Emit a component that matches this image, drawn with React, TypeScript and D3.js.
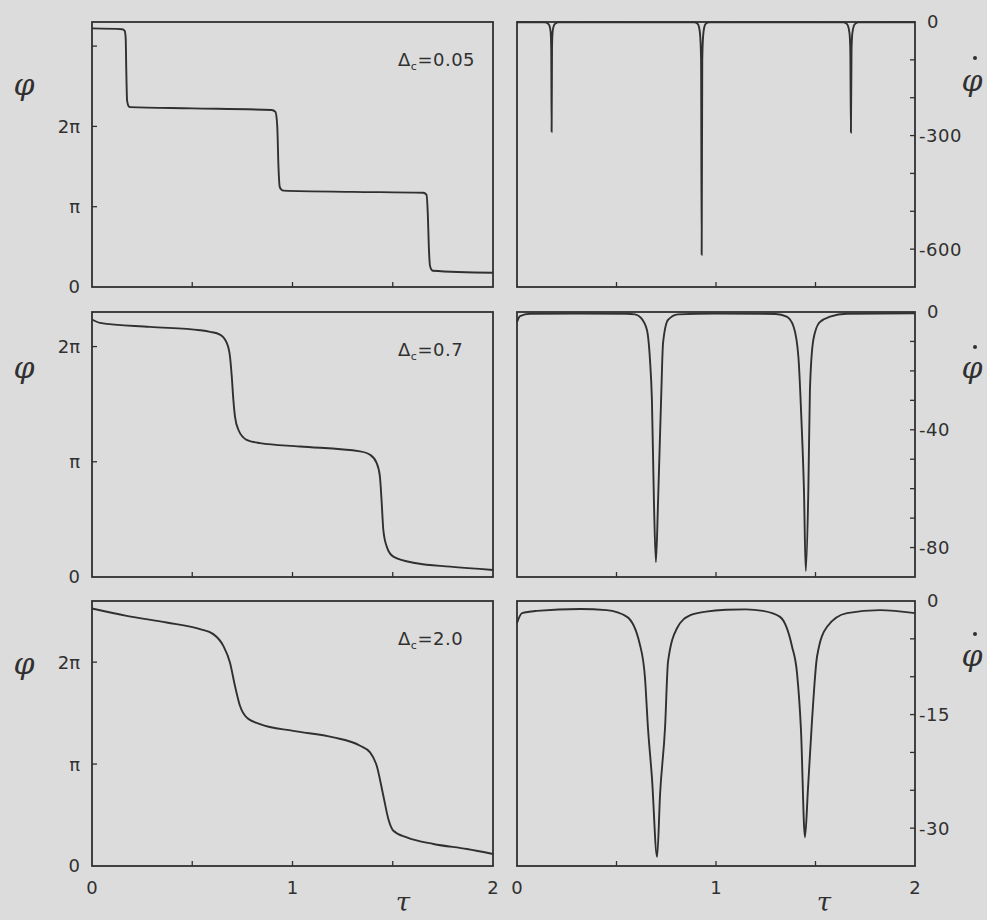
import React from 'react';
import * as d3 from 'd3';

// ---------- data (phase in units of pi, rate in raw units) ----------
const tauMinorTicks = [0.5, 1, 1.5];
const tauLabels = [0, 1, 2];
const deltaLabels = ['0.05', '0.7', '2.0'];

const phaseDomainsTop = [3.3, 2.3, 2.6];
const phaseTickSets = [[1, 2, 3], [1, 2], [1, 2]];
const phaseLabelVals = [0, 1, 2];

const rateDomainsBottom = [-700, -90, -35];
const rateTickSets = [
  [-100, -200, -300, -400, -500, -600],
  [-10, -20, -30, -40, -50, -60, -70, -80],
  [-5, -10, -15, -20, -25, -30],
];
const rateLabelSets = [[0, -300, -600], [0, -40, -80], [0, -15, -30]];

const phi005: [number, number][] = [
  [0, 3.22], [0.15, 3.21], [0.163, 3.19], [0.168, 3.1], [0.171, 2.7], [0.175, 2.32], [0.183, 2.25],
  [0.19, 2.24], [0.5, 2.225], [0.896, 2.204], [0.915, 2.18], [0.924, 2.0], [0.93, 1.5], [0.936, 1.25],
  [0.945, 1.21], [0.955, 1.2], [1.3, 1.185], [1.652, 1.174], [1.668, 1.15], [1.675, 0.9], [1.68, 0.5],
  [1.686, 0.26], [1.695, 0.21], [1.7, 0.203], [2, 0.178],
];
const phi07: [number, number][] = [
  [0, 2.235], [0.04, 2.206], [0.289, 2.171], [0.539, 2.142], [0.589, 2.128], [0.638, 2.104],
  [0.672, 2.032], [0.688, 1.916], [0.697, 1.742], [0.705, 1.539], [0.713, 1.394], [0.73, 1.278],
  [0.771, 1.191], [0.838, 1.162], [1.037, 1.133], [1.337, 1.09], [1.387, 1.061], [1.42, 0.988],
  [1.436, 0.872], [1.445, 0.641], [1.453, 0.409], [1.47, 0.264], [1.503, 0.177], [1.619, 0.119],
  [1.786, 0.09], [2, 0.061],
];
const phi20: [number, number][] = [
  [0, 2.526], [0.173, 2.454], [0.372, 2.389], [0.539, 2.324], [0.605, 2.275], [0.655, 2.16],
  [0.688, 1.997], [0.713, 1.768], [0.738, 1.572], [0.771, 1.458], [0.838, 1.392], [1.004, 1.326],
  [1.204, 1.262], [1.337, 1.18], [1.387, 1.115], [1.42, 0.984], [1.453, 0.689], [1.478, 0.461],
  [1.503, 0.346], [1.57, 0.281], [1.703, 0.216], [1.87, 0.167], [2, 0.118],
];

const rate005: [number, number][] = [
  [0, -0.5], [0.14, -1], [0.155, -4], [0.163, -10], [0.169, -26], [0.172, -70], [0.174, -290],
  [0.176, -70], [0.179, -26], [0.185, -10], [0.193, -4], [0.208, -1], [0.5, -0.5],
  [0.89, -1], [0.906, -4], [0.914, -12], [0.921, -40], [0.925, -100], [0.928, -615], [0.931, -100],
  [0.935, -40], [0.942, -12], [0.95, -4], [0.966, -1], [1.3, -0.5],
  [1.64, -1], [1.655, -4], [1.663, -10], [1.671, -30], [1.675, -75], [1.678, -292], [1.681, -75],
  [1.685, -30], [1.693, -10], [1.701, -4], [1.716, -1], [2, -0.5],
];
const rate07: [number, number][] = [
  [0, -3.4], [0.015, -1.4], [0.065, -0.6], [0.3, -0.5], [0.55, -0.6], [0.593, -0.8], [0.623, -2],
  [0.653, -6.1], [0.668, -16], [0.678, -30], [0.688, -64], [0.698, -85], [0.709, -64], [0.724, -30],
  [0.734, -10.5], [0.759, -2.7], [0.809, -0.8], [1.0, -0.5], [1.3, -0.7], [1.355, -1.6], [1.39, -5],
  [1.414, -15.2], [1.43, -37.8], [1.442, -60.5], [1.451, -88], [1.464, -60.5], [1.472, -26.5],
  [1.489, -9.5], [1.52, -3.5], [1.573, -1.6], [1.657, -0.6], [2, -0.4],
];
const rate20: [number, number][] = [
  [0, -2.9], [0.025, -1.6], [0.1, -1.3], [0.317, -1.05], [0.45, -1.2], [0.553, -2.1], [0.618, -5.8],
  [0.643, -10.1], [0.658, -16.7], [0.678, -23.3], [0.704, -33.8], [0.719, -25.5], [0.744, -16.7],
  [0.759, -8], [0.804, -3.6], [0.869, -1.9], [0.95, -1.4], [1.05, -1.15], [1.15, -1.1], [1.236, -1.3],
  [1.322, -2.1], [1.382, -6], [1.407, -9.5], [1.427, -17], [1.447, -31.2], [1.462, -24.9],
  [1.482, -16], [1.508, -7.3], [1.558, -3.4], [1.658, -1.6], [1.824, -1.2], [2, -1.6],
];

const phaseSeries = [phi005, phi07, phi20];
const rateSeries = [rate005, rate07, rate20];

// ---------- layout ----------
const W = 987;
const H = 920;
const LX0 = 92, LX1 = 493, RX0 = 517, RX1 = 915;
const ROW_TOPS = [22, 312, 601];
const PH = 265;
const INK = '#303030';
const BG = '#dcdcdc';
const FONT = '"DejaVu Sans", "Liberation Sans", sans-serif';
const GREEK = '"DejaVu Serif", serif';

function piLabel(v: number) {
  if (v === 0) return '0';
  if (v === 1) return 'π';
  return `${v}π`;
}

function Row({ i }: { i: number }) {
  const top = ROW_TOPS[i];
  const bot = top + PH;
  const xL = d3.scaleLinear().domain([0, 2]).range([LX0, LX1]);
  const xR = d3.scaleLinear().domain([0, 2]).range([RX0, RX1]);
  const yL = d3.scaleLinear().domain([0, phaseDomainsTop[i]]).range([bot, top]);
  const yR = d3.scaleLinear().domain([rateDomainsBottom[i], 0]).range([bot, top]);
  const lineL = d3.line<[number, number]>().x(d => xL(d[0])).y(d => yL(d[1])).curve(d3.curveMonotoneX);
  const lineR = d3.line<[number, number]>().x(d => xR(d[0])).y(d => yR(d[1])).curve(d3.curveMonotoneX);
  const tick = 5;
  return (
    <g>
      <path d={lineL(phaseSeries[i]) || ''} fill="none" stroke={INK} strokeWidth={1.9} />
      <path d={lineR(rateSeries[i]) || ''} fill="none" stroke={INK} strokeWidth={1.9} />
      <rect x={LX0} y={top} width={LX1 - LX0} height={PH} fill="none" stroke={INK} strokeWidth={1.8} />
      <rect x={RX0} y={top} width={RX1 - RX0} height={PH} fill="none" stroke={INK} strokeWidth={1.8} />
      {tauMinorTicks.map(t => (
        <g key={'xt' + t}>
          <line x1={xL(t)} x2={xL(t)} y1={bot} y2={bot - tick} stroke={INK} strokeWidth={1.3} />
          <line x1={xR(t)} x2={xR(t)} y1={bot} y2={bot - tick} stroke={INK} strokeWidth={1.3} />
        </g>
      ))}
      {phaseTickSets[i].map(v => (
        <line key={'lt' + v} x1={LX0} x2={LX0 + tick} y1={yL(v)} y2={yL(v)} stroke={INK} strokeWidth={1.3} />
      ))}
      {phaseLabelVals.map(v => (
        <text key={'ll' + v} x={LX0 - 12} y={yL(v)} dy="0.36em" textAnchor="end" fontFamily={FONT} fontSize={18} fill={INK}>
          {piLabel(v)}
        </text>
      ))}
      {rateTickSets[i].map(v => (
        <line key={'rt' + v} x1={RX1} x2={RX1 - tick} y1={yR(v)} y2={yR(v)} stroke={INK} strokeWidth={1.3} />
      ))}
      {rateLabelSets[i].map(v => (
        <text key={'rl' + v} x={RX1 + (v < 0 ? 4 : 12)} y={yR(v)} dy="0.36em" textAnchor="start" fontFamily={FONT} fontSize={18} letterSpacing={0.5} fill={INK}>
          {v < 0 ? `-${Math.abs(v)}` : `${v}`}
        </text>
      ))}
      <text x={398} y={top + 44} fontFamily={FONT} fontSize={18} letterSpacing={0.5} fill={INK}>
        Δ<tspan fontSize={11} dy={4}>c</tspan><tspan dy={-4}>={deltaLabels[i]}</tspan>
      </text>
      <text x={24} y={top + [73, 66, 73][i]} textAnchor="middle" fontFamily={GREEK} fontStyle="italic" fontSize={30} fill={INK}>φ</text>
      <text x={972} y={top + [69, 66, 65][i]} textAnchor="middle" fontFamily={GREEK} fontStyle="italic" fontSize={30} fill={INK}>φ</text>
      <circle cx={975} cy={top + [36, 35, 33][i]} r={2} fill={INK} />
      {i === 2 && (
        <g>
          {tauLabels.map(t => (
            <g key={'tl' + t}>
              <text x={xL(t)} y={bot + 22} dy="0.36em" textAnchor="middle" fontFamily={FONT} fontSize={18} fill={INK}>{t}</text>
              <text x={xR(t)} y={bot + 22} dy="0.36em" textAnchor="middle" fontFamily={FONT} fontSize={18} fill={INK}>{t}</text>
            </g>
          ))}
          <text x={403} y={911} textAnchor="middle" fontFamily={GREEK} fontStyle="italic" fontSize={26} fill={INK}>τ</text>
          <text x={824} y={911} textAnchor="middle" fontFamily={GREEK} fontStyle="italic" fontSize={26} fill={INK}>τ</text>
        </g>
      )}
    </g>
  );
}

export default function App() {
  return (
    <div style={{ position: 'absolute', left: 0, top: 0 }}>
      <svg width={W} height={H} style={{ display: 'block', background: BG }}>
        <rect x={0} y={0} width={W} height={H} fill={BG} />
        {[0, 1, 2].map(i => <Row key={i} i={i} />)}
      </svg>
    </div>
  );
}
